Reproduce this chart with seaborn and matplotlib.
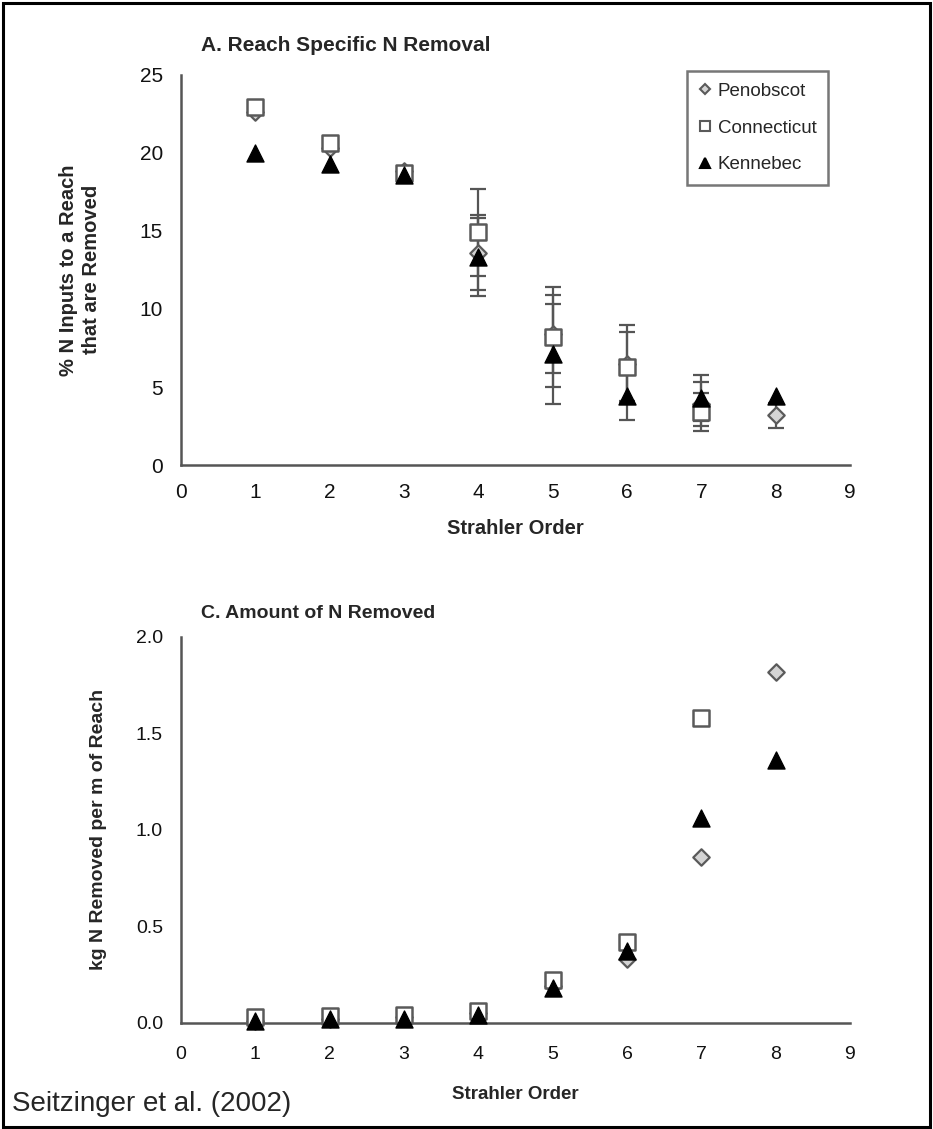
import numpy as np
import pandas as pd
import matplotlib
matplotlib.use("Agg")
import matplotlib.pyplot as plt
import seaborn as sns
from matplotlib.patches import Rectangle
from matplotlib.lines import Line2D

sns.set_style("white")
plt.rcParams['font.family'] = ['Liberation Sans', 'DejaVu Sans']

nan = np.nan
orders = [1, 2, 3, 4, 5, 6, 7, 8]
series = ["Penobscot", "Connecticut", "Kennebec"]

# Panel A: % N inputs to a reach that are removed
A_penobscot = [22.6, 20.3, 18.8, 13.6, 8.4, 6.5, 3.9, 3.2]
A_penobscot_err = [nan, nan, nan, 2.4, 2.5, 2.5, 1.4, 0.8]
A_connecticut = [22.9, 20.6, 18.7, 14.9, 8.2, 6.3, 3.4, nan]
A_connecticut_err = [nan, nan, nan, 2.8, 3.2, 2.2, 1.2, nan]
A_kennebec = [20.0, 19.3, 18.6, 13.3, 7.1, 4.4, 4.3, 4.4]
A_kennebec_err = [nan, nan, nan, 2.5, 3.2, 1.5, 1.45, nan]

# Panel C: kg N removed per m of reach
C_penobscot = [0.01, 0.02, 0.03, 0.05, 0.19, 0.33, 0.86, 1.82]
C_connecticut = [0.03, 0.035, 0.04, 0.06, 0.22, 0.42, 1.58, nan]
C_kennebec = [0.01, 0.02, 0.02, 0.04, 0.18, 0.37, 1.06, 1.36]

styles = {
    "Penobscot": dict(marker="D", s=70, color="#d4d4d4", edgecolor="#5a5a5a", linewidth=1.6),
    "Connecticut": dict(marker="s", s=120, color="white", edgecolor="#5a5a5a", linewidth=1.8),
    "Kennebec": dict(marker="^", s=150, color="black", edgecolor="black", linewidth=1.0),
}

fig = plt.figure(figsize=(9.33, 11.29), dpi=100)
fig.patch.set_facecolor("white")

axA = fig.add_axes([0.194, 0.588, 0.717, 0.346])
axC = fig.add_axes([0.194, 0.094, 0.717, 0.342])

spine_col = "#555555"

def style_axes(ax, fs, pad):
    for s in ["top", "right"]:
        ax.spines[s].set_visible(False)
    for s in ["left", "bottom"]:
        ax.spines[s].set_color(spine_col)
        ax.spines[s].set_linewidth(1.8)
    ax.tick_params(direction="out", length=7, width=1.5, color=spine_col,
                   labelsize=fs, labelcolor="#111111", pad=pad)
    ax.set_xlim(0, 9)
    ax.set_xticks(range(0, 10))

# ----- Panel A -----
dfA = pd.DataFrame({
    "order": orders * 3,
    "value": A_penobscot + A_connecticut + A_kennebec,
    "err": A_penobscot_err + A_connecticut_err + A_kennebec_err,
    "river": sum([[r] * len(orders) for r in series], []),
})
for r in series:
    sub = dfA[(dfA.river == r) & dfA.err.notna()]
    axA.errorbar(sub.order, sub.value, yerr=sub.err, fmt="none", ecolor="#555555",
                 elinewidth=1.6, capsize=6, capthick=1.6, zorder=2)
for i, r in enumerate(series):
    sub = dfA[(dfA.river == r) & dfA.value.notna()]
    st = styles[r]
    sns.scatterplot(data=sub, x="order", y="value", ax=axA, marker=st["marker"], s=st["s"],
                    color=st["color"], edgecolor=st["edgecolor"], linewidth=st["linewidth"],
                    zorder=3 + i, clip_on=False, legend=False)
style_axes(axA, 15, 6)
axA.set_ylim(0, 25)
axA.set_yticks([0, 5, 10, 15, 20, 25])
axA.set_xlabel("Strahler Order", fontsize=14.5, fontweight="bold", labelpad=12)
axA.set_ylabel("% N Inputs to a Reach\nthat are Removed", fontsize=14.5, fontweight="bold",
               linespacing=1.25)
axA.yaxis.set_label_coords(-0.12, 0.5)

handles = []
for r in series:
    st = styles[r]
    handles.append(Line2D([], [], linestyle="none", marker=st["marker"],
                          markersize=np.sqrt(st["s"]) * 0.62,
                          markerfacecolor=st["color"], markeredgecolor=st["edgecolor"],
                          markeredgewidth=1.5, label=r))
leg = axA.legend(handles=handles, loc="upper left", bbox_to_anchor=(0.756, 1.008),
                 frameon=True, fancybox=False, fontsize=13.5, handletextpad=0.35,
                 handlelength=0.7, borderpad=0.6, labelspacing=1.05, borderaxespad=0)
leg.get_frame().set_edgecolor("#555555")
leg.get_frame().set_linewidth(1.8)

# ----- Panel C -----
dfC = pd.DataFrame({
    "order": orders * 3,
    "value": C_penobscot + C_connecticut + C_kennebec,
    "river": sum([[r] * len(orders) for r in series], []),
})
for i, r in enumerate(series):
    sub = dfC[(dfC.river == r) & dfC.value.notna()]
    st = styles[r]
    sns.scatterplot(data=sub, x="order", y="value", ax=axC, marker=st["marker"], s=st["s"],
                    color=st["color"], edgecolor=st["edgecolor"], linewidth=st["linewidth"],
                    zorder=3 + i, clip_on=False, legend=False)
style_axes(axC, 14, 10)
axC.set_ylim(0, 2.0)
axC.set_yticks([0.0, 0.5, 1.0, 1.5, 2.0])
axC.set_yticklabels(["0.0", "0.5", "1.0", "1.5", "2.0"])
axC.tick_params(axis="y", pad=6)
axC.set_xlabel("Strahler Order", fontsize=13.5, fontweight="bold", labelpad=16)
axC.set_ylabel("kg N Removed per m of Reach", fontsize=14, fontweight="bold")
axC.yaxis.set_label_coords(-0.11, 0.5)

# Titles and annotations
fig.text(0.215, 0.960, "A. Reach Specific N Removal", fontsize=15, fontweight="bold",
         va="center", ha="left")
fig.text(0.215, 0.457, "C. Amount of N Removed", fontsize=14, fontweight="bold",
         va="center", ha="left")
fig.text(0.013, 0.022, "Seitzinger et al. (2002)", fontsize=20, va="center", ha="left")

# figure border
fig.patches.append(Rectangle((0.003, 0.002), 0.994, 0.995, transform=fig.transFigure,
                             fill=False, edgecolor="black", linewidth=2.2))

fig.savefig("out.png", dpi=100, facecolor="white")
